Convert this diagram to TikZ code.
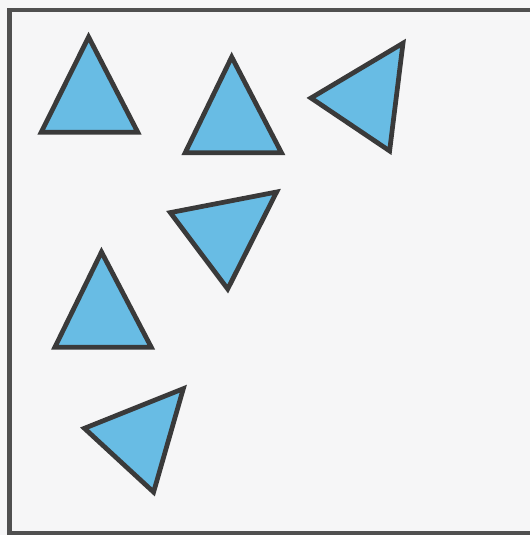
\documentclass[tikz,border=0pt]{standalone}
\usepackage{tikz}
\definecolor{tileblue}{RGB}{104,188,228}
\definecolor{edgegray}{RGB}{58,58,58}
\definecolor{framegray}{RGB}{80,80,80}
\definecolor{paper}{RGB}{246,246,247}
\tikzset{tile/.style={fill=tileblue,draw=edgegray,line width=2.7pt,line join=miter},
    frame/.style={draw=framegray,line width=2.6pt}}

\begin{document}
\begin{tikzpicture}[x=0.02cm,y=-0.02cm]
    % Page and frame
    \useasboundingbox (0,0) rectangle (530,535);
    \clip (0,0) rectangle (530,535);
    \fill[paper] (0,0) rectangle (530,535);
    \draw[frame] (9.5,10) rectangle (545,533);

    % Triangles, top row
    \draw[tile] (88.6,37) -- (41.2,132.3) -- (137.8,132.3) -- cycle;
    \draw[tile] (231.7,57) -- (185.2,152.7) -- (281.5,152.8) -- cycle;
    \draw[tile] (311,98) -- (403,43.2) -- (389.6,150.9) -- cycle;

    % Triangles, lower left
    \draw[tile] (170.3,212.6) -- (276.6,192) -- (227.7,289) -- cycle;
    \draw[tile] (101.5,252) -- (54.9,347.2) -- (151.3,347.3) -- cycle;
    \draw[tile] (84.4,428.3) -- (183.3,388.7) -- (153.6,492.1) -- cycle;
\end{tikzpicture}
\end{document}
